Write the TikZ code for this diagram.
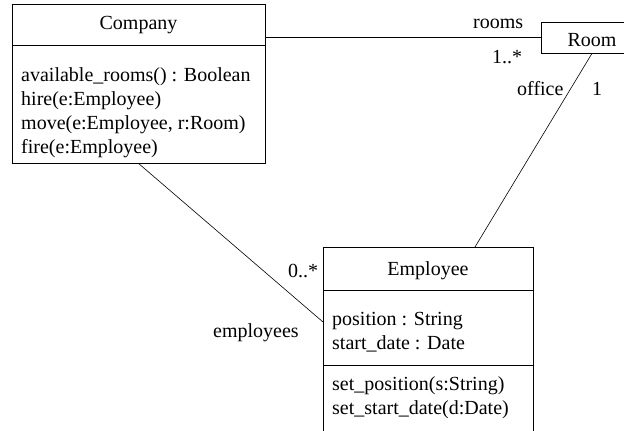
\documentclass[tikz,border=0pt]{standalone}
\usepackage{fontspec}
\setmainfont{Liberation Serif}
\usepackage{xcolor}
\usepackage{tikz}

\tikzset{
  classbox/.style={draw, line width=0.8pt, inner sep=0pt},
  member/.style={anchor=base west, inner sep=0pt},
  assoc/.style={line width=0.6pt}
}

\begin{document}
\begin{tikzpicture}[x=1pt, y=-1pt, font=\fontsize{20}{24}\selectfont]
                \useasboundingbox (0,0) rectangle (624,431);

                % Company
                \node[classbox, minimum width=253pt, minimum height=159pt] (company) at (138.5,83.5) {};
                \draw[line width=0.8pt] (12,45) -- (265,45);
                \node[anchor=base] (companyname) at (138.5,29) {Company};
                \node[member] (ops1) at (21,81) {available\_rooms() : Boolean};
                \node[member] (ops2) at (21,105) {hire(e:Employee)};
                \node[member] (ops3) at (21,129) {move(e:Employee, r:Room)};
                \node[member] (ops4) at (21,153) {fire(e:Employee)};

                % Room
                \node[classbox, minimum width=102pt, minimum height=31pt] (room) at (592,37.5) {};
                \node[anchor=base] (roomname) at (592,46) {Room};

                % Employee
                \node[classbox, minimum width=210pt, minimum height=200pt] (employee) at (428,347) {};
                \draw[line width=0.8pt] (323,290) -- (533,290);
                \draw[line width=0.8pt] (323,365) -- (533,365);
                \node[anchor=base] (employeename) at (428,275) {Employee};
                \node[member] (attr1) at (332,325) {position : String};
                \node[member] (attr2) at (332,349) {start\_date : Date};
                \node[member] (meth1) at (332,390) {set\_position(s:String)};
                \node[member] (meth2) at (332,414) {set\_start\_date(d:Date)};

                % associations
                \coordinate (c1) at (265,37.5);
                \coordinate (e1) at (475,247);
                \coordinate (e2) at (323,322);
                \draw[assoc] (c1) -- (room.west);
                \draw[assoc] (room.south) -- (e1);
                \draw[assoc] (company.south) -- (e2);

                % roles and multiplicities
                \node[member] (rooms) at (473,28) {rooms};
                \node[member] (roommult) at (492,63) {1..*};
                \node[member] (office) at (517,95) {office};
                \node[member] (officemult) at (592,95) {1};
                \node[member] (empmult) at (288,277) {0..*};
                \node[member] (employees) at (213,337) {employees};
            \end{tikzpicture}
\end{document}
